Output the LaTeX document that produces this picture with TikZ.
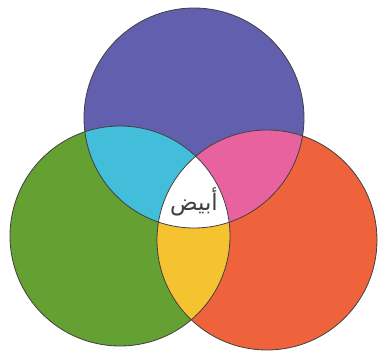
\documentclass[tikz,border=0pt]{standalone}
\usepackage{fontspec}
\newfontfamily\arabicfont[Script=Arabic]{DejaVu Sans}
\TeXXeTstate=1
\usepackage{xcolor}

\definecolor{topviolet}{HTML}{6260AE}
\definecolor{leftgreen}{HTML}{64A032}
\definecolor{rightred}{HTML}{EF633C}
\definecolor{mixcyan}{HTML}{42BEDA}
\definecolor{mixmagenta}{HTML}{E8629F}
\definecolor{mixyellow}{HTML}{F5C230}

\begin{document}
\begin{tikzpicture}[x=0.02cm, y=0.02cm,
  rim/.style={draw=black!75, line width=0.45pt},
  label/.style={font=\arabicfont\fontsize{13}{15}\selectfont, text=black!75}
]
  \useasboundingbox (0,0) rectangle (380,353);

  % centres of the three discs
  \coordinate (cb) at (194,235);
  \coordinate (cg) at (120,117);
  \coordinate (cr) at (267,113);
  \def\rad{110}

  % primary discs
  \fill[topviolet] (cb) circle (\rad);
  \fill[leftgreen] (cg) circle (\rad);
  \fill[rightred] (cr) circle (\rad);

  % overlaps with the top disc
  \begin{scope}
    \clip (cb) circle (\rad);
    \fill[mixcyan] (cg) circle (\rad);
    \fill[mixmagenta] (cr) circle (\rad);
  \end{scope}

  % green and red overlap, white in the middle
  \begin{scope}
    \clip (cg) circle (\rad);
    \fill[mixyellow] (cr) circle (\rad);
    \clip (cb) circle (\rad);
    \fill[white] (cr) circle (\rad);
  \end{scope}

  % outlines
  \draw[rim] (cb) circle (\rad);
  \draw[rim] (cg) circle (\rad);
  \draw[rim] (cr) circle (\rad);

  \node[label] (white) at (194,151) {\beginR أبيض\endR};
\end{tikzpicture}
\end{document}
